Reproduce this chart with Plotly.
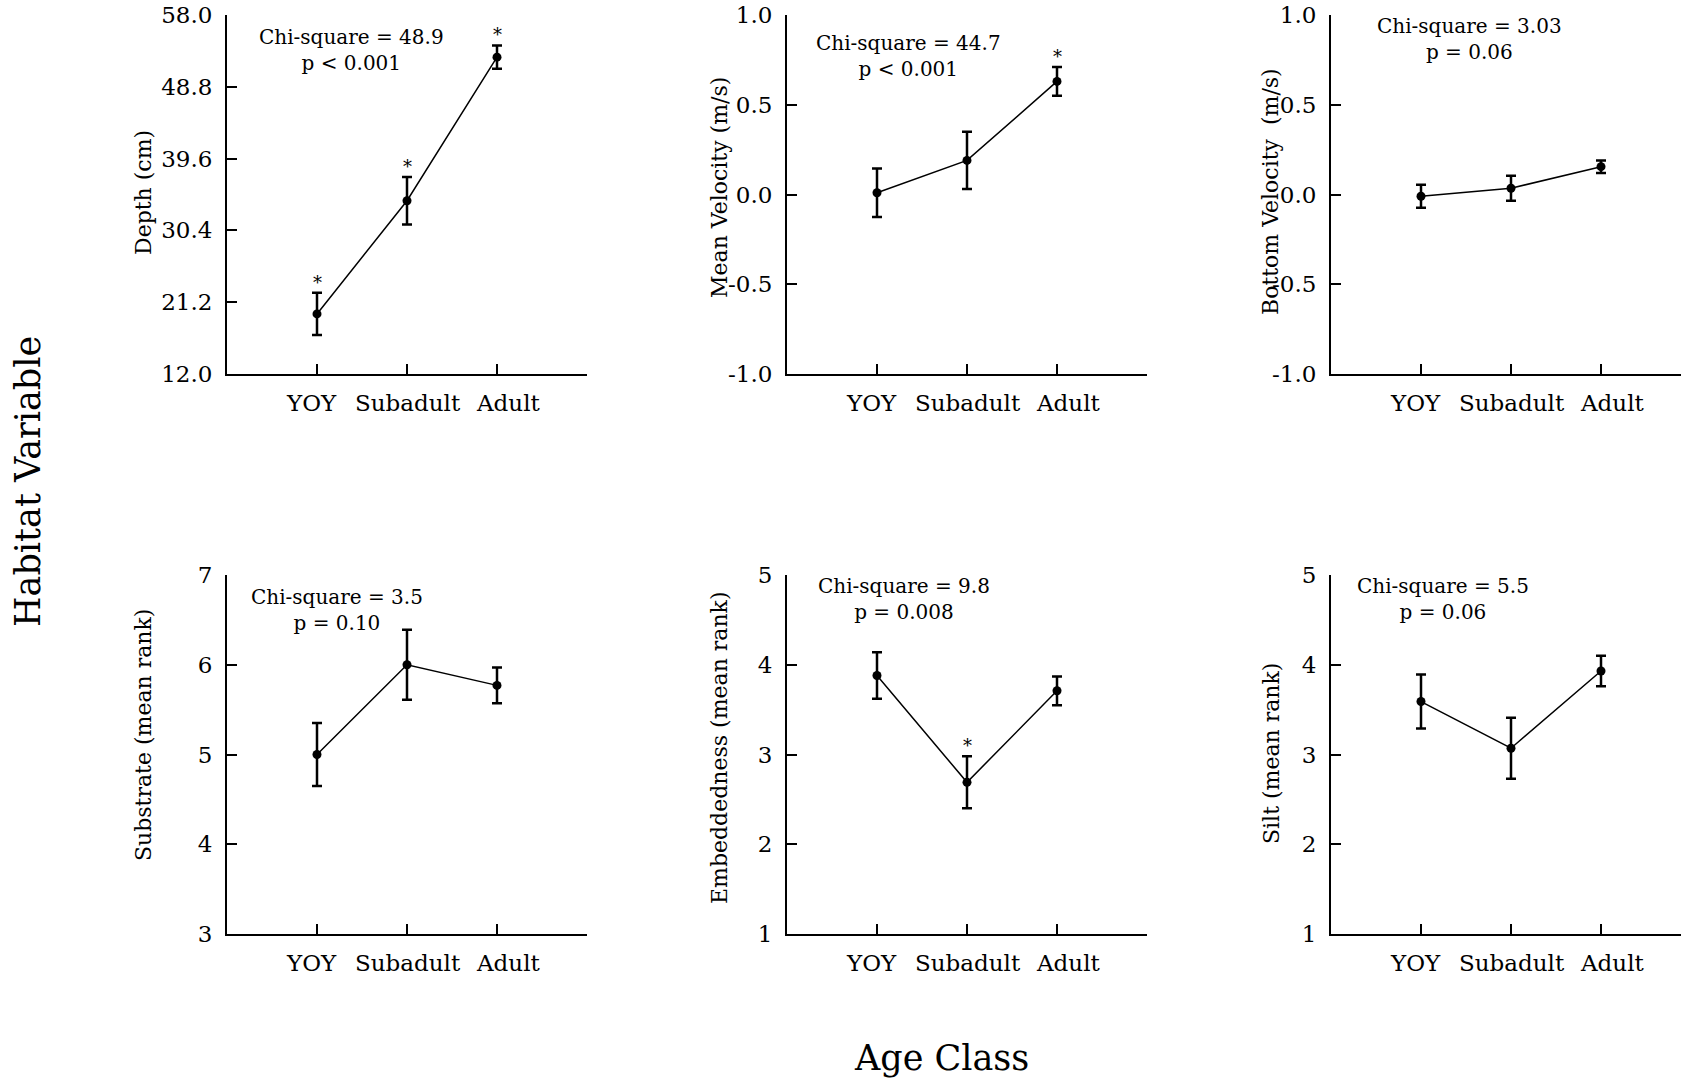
import plotly.graph_objects as go

# ---------------- data ----------------
categories = ["YOY", "Subadult", "Adult"]
cat_pos = [1, 2, 3]

depth_mean = [19.7, 34.2, 52.6]
depth_err = [2.7, 3.05, 1.5]
depth_sig = [True, True, True]

meanvel_mean = [0.01, 0.19, 0.63]
meanvel_err = [0.135, 0.16, 0.08]
meanvel_sig = [False, False, True]

botvel_mean = [-0.01, 0.035, 0.155]
botvel_err = [0.064, 0.07, 0.035]
botvel_sig = [False, False, False]

substrate_mean = [5.0, 6.0, 5.77]
substrate_err = [0.35, 0.39, 0.2]
substrate_sig = [False, False, False]

embed_mean = [3.88, 2.69, 3.71]
embed_err = [0.26, 0.29, 0.16]
embed_sig = [False, True, False]

silt_mean = [3.59, 3.07, 3.93]
silt_err = [0.30, 0.34, 0.17]
silt_sig = [False, False, False]

y_titles = ["Depth (cm)", "Mean Velocity (m/s)", "Bottom Velocity  (m/s)",
            "Substrate (mean rank)", "Embeddedness (mean rank)", "Silt (mean rank)"]
stat_texts = ["Chi-square = 48.9<br>p < 0.001", "Chi-square = 44.7<br>p < 0.001",
              "Chi-square = 3.03<br>p = 0.06", "Chi-square = 3.5<br>p = 0.10",
              "Chi-square = 9.8<br>p = 0.008", "Chi-square = 5.5<br>p = 0.06"]
y_ticks = [[12.0, 21.2, 30.4, 39.6, 48.8, 58.0],
           [-1.0, -0.5, 0.0, 0.5, 1.0],
           [-1.0, -0.5, 0.0, 0.5, 1.0],
           [3, 4, 5, 6, 7],
           [1, 2, 3, 4, 5],
           [1, 2, 3, 4, 5]]
y_labels = [["12.0", "21.2", "30.4", "39.6", "48.8", "58.0"],
            ["-1.0", "-0.5", "0.0", "0.5", "1.0"],
            ["-1.0", "-0.5", "0.0", "0.5", "1.0"],
            ["3", "4", "5", "6", "7"],
            ["1", "2", "3", "4", "5"],
            ["1", "2", "3", "4", "5"]]

means = [depth_mean, meanvel_mean, botvel_mean, substrate_mean, embed_mean, silt_mean]
errs = [depth_err, meanvel_err, botvel_err, substrate_err, embed_err, silt_err]
sigs = [depth_sig, meanvel_sig, botvel_sig, substrate_sig, embed_sig, silt_sig]

# ---------------- layout geometry (pixels) ----------------
W, H = 1681, 1081
FONT = "DejaVu Serif"
col_px = [(227, 587, 4.0), (787, 1147, 4.0), (1331, 1681, 350 / 90)]
row_px = [(15, 374), (575, 934)]
stat_pos = [(351, 50), (909, 56), (1469, 39), (337, 610), (904, 599), (1443, 599)]
ytitle_pos = [(143, 193), (719, 188), (1271, 192), (143, 735), (719, 748), (1271, 754)]
cat_label_shift = [-6, 1, 11]

fig = go.Figure()
layout = dict(width=W, height=H,
              margin=dict(l=0, r=0, t=0, b=0, pad=0, autoexpand=False),
              plot_bgcolor="white", paper_bgcolor="white", showlegend=False,
              font=dict(family=FONT, color="black"))
annotations = []

for i in range(6):
    r, c = divmod(i, 3)
    n = i + 1
    xa = "x" if n == 1 else f"x{n}"
    ya = "y" if n == 1 else f"y{n}"
    x0, x1, xr = col_px[c]
    t0, b0 = row_px[r]
    fig.add_trace(go.Scatter(
        x=cat_pos, y=means[i], mode="lines+markers",
        line=dict(color="black", width=1.5),
        marker=dict(color="black", size=9),
        error_y=dict(type="data", array=errs[i], visible=True,
                     color="black", thickness=2.5, width=5),
        xaxis=xa, yaxis=ya, cliponaxis=False))
    layout["xaxis" if n == 1 else f"xaxis{n}"] = dict(
        domain=[x0 / W, x1 / W], range=[0, xr], anchor=ya,
        tickvals=cat_pos, showticklabels=False, ticks="inside", ticklen=10,
        tickwidth=1.5, tickcolor="black", showline=True, linecolor="black",
        linewidth=2, showgrid=False, zeroline=False, automargin=False)
    layout["yaxis" if n == 1 else f"yaxis{n}"] = dict(
        domain=[1 - b0 / H, 1 - t0 / H], range=[y_ticks[i][0], y_ticks[i][-1]],
        anchor=xa, tickvals=y_ticks[i], ticktext=y_labels[i], ticks="inside",
        ticklen=10, tickwidth=1.5, tickcolor="black", showline=True,
        linecolor="black", linewidth=2, showgrid=False, zeroline=False,
        automargin=False,
        tickfont=dict(family=FONT, size=23, color="black"), ticklabelstandoff=8)
    # category labels under the axis
    for k in range(3):
        annotations.append(dict(
            xref=xa, yref=f"{ya} domain", x=cat_pos[k], y=0, text=categories[k],
            showarrow=False, xanchor="center", yanchor="middle",
            xshift=cat_label_shift[k], yshift=-29,
            font=dict(family=FONT, size=23, color="black")))
    # significance asterisks
    for k in range(3):
        if sigs[i][k]:
            annotations.append(dict(
                xref=xa, yref=ya, x=cat_pos[k], y=means[i][k] + errs[i][k],
                text="*", showarrow=False, yanchor="bottom", yshift=-2,
                font=dict(family=FONT, size=18, color="black")))
    sx, sy = stat_pos[i]
    annotations.append(dict(
        xref="paper", yref="paper", x=sx / W, y=1 - sy / H, text=stat_texts[i],
        showarrow=False, xanchor="center", yanchor="middle", align="center",
        font=dict(family=FONT, size=20, color="black")))
    tx, ty = ytitle_pos[i]
    annotations.append(dict(
        xref="paper", yref="paper", x=tx / W, y=1 - ty / H, text=y_titles[i],
        showarrow=False, xanchor="center", yanchor="middle", textangle=-90,
        font=dict(family=FONT, size=22, color="black")))

annotations.append(dict(xref="paper", yref="paper", x=28 / W, y=1 - 482 / H,
                        text="Habitat Variable", showarrow=False, textangle=-90,
                        xanchor="center", yanchor="middle",
                        font=dict(family=FONT, size=35, color="black")))
annotations.append(dict(xref="paper", yref="paper", x=941 / W, y=1 - 1058 / H,
                        text="Age Class", showarrow=False,
                        xanchor="center", yanchor="middle",
                        font=dict(family=FONT, size=35, color="black")))
layout["annotations"] = annotations
fig.update_layout(**layout)
fig.write_html("out.html")
